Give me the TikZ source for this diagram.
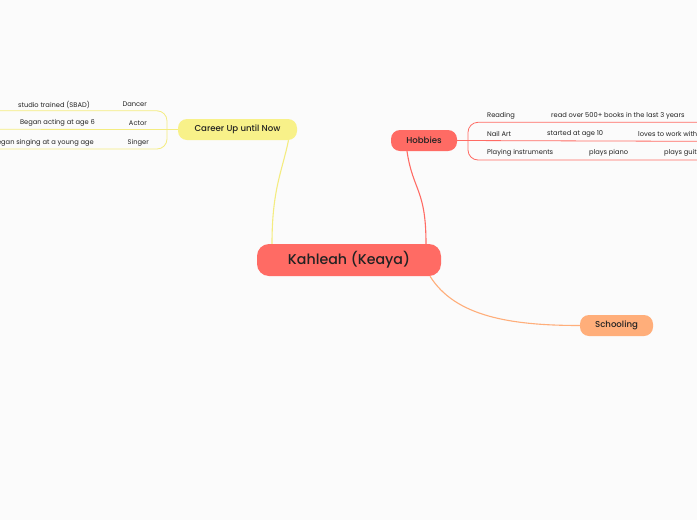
\documentclass[tikz,border=0pt]{standalone}
\usepackage{fontspec}
\setmainfont{Poppins}
\newfontfamily\pmed{Poppins Medium}
\definecolor{bg}{HTML}{FBFBFB}
\definecolor{mainred}{HTML}{FF6B64}
\definecolor{hobred}{HTML}{FF6B64}
\definecolor{careeryel}{HTML}{F8F189}
\definecolor{careerline}{HTML}{F4EC80}
\definecolor{schoolor}{HTML}{FFAE7A}
\definecolor{txt}{HTML}{222222}
\tikzset{
  topic/.style={rounded corners=9pt, minimum height=21pt, inner sep=0pt, text=txt, font=\pmed\fontsize{8.6}{10}\selectfont},
  leaf/.style={inner sep=0pt, text=txt, font=\fontsize{6.7}{8}\selectfont},
  conn/.style={line width=1.1pt},
}
\begin{document}
\begin{tikzpicture}[x=1pt,y=-1pt]
\fill[bg] (0,0) rectangle (697,520);
\useasboundingbox (0,0) rectangle (697,520);
\clip (0,0) rectangle (697,520);
% topics
\node[topic, fill=mainred, minimum width=184pt, minimum height=32pt, rounded corners=12pt, font=\pmed\fontsize{14.2}{16}\selectfont] (main) at (349,260) {Kahleah (Keaya)};
\node[topic, fill=careeryel, minimum width=119pt] (career) at (237.5,129.5) {Career Up until Now};
\node[topic, fill=hobred, minimum width=66pt] (hob) at (424,140.5) {Hobbies};
\node[topic, fill=schoolor, minimum width=73pt] (school) at (616.5,325.5) {Schooling};
% connectors
\draw[conn, careerline] ([xshift=-77pt]main.north) .. controls +(0,-55) and +(-6,30) .. ([xshift=51pt]career.south);
\draw[conn, hobred] ([xshift=77pt]main.north) .. controls +(0,-55) and +(6,40) .. ([xshift=-17pt]hob.south);
\draw[conn, schoolor] ([xshift=81pt]main.south) .. controls +(25,40) and +(-70,0) .. (school.west);
% career bracket
\coordinate (cb) at (0,129.3);
\draw[line width=0.8pt, careerline, rounded corners=10pt] (0,110.8) -- (167,110.8) -- (167,149) -- (0,149);
\draw[line width=0.8pt, careerline] (career.west) -- (cb);
\node[leaf, anchor=east] (c1) at (90,104.5) {studio trained (SBAD)};
\node[leaf, anchor=east] (c1b) at (147,104.5) {Dancer};
\node[leaf, anchor=east] (c2) at (95,123.3) {Began acting at age 6};
\node[leaf, anchor=east] (c2b) at (147,123.3) {Actor};
\node[leaf, anchor=east] (c3) at (94,142.5) {Began singing at a young age};
\node[leaf, anchor=east] (c3b) at (149,142.5) {Singer};
% hobbies bracket
\coordinate (hb) at (697,141.3);
\draw[line width=0.8pt, hobred, rounded corners=10pt] (697,122.3) -- (468,122.3) -- (468,160) -- (697,160);
\draw[line width=0.8pt, hobred] (hob.east) -- (hb);
\node[leaf, anchor=west] (h1) at (487,115.5) {Reading};
\node[leaf, anchor=west] (h1b) at (551,115.5) {read over 500+ books in the last 3 years};
\node[leaf, anchor=west] (h2) at (487,134.3) {Nail Art};
\node[leaf, anchor=west] (h2b) at (547,134.3) {started at age 10};
\node[leaf, anchor=west] (h2c) at (638,134.3) {loves to work with};
\node[leaf, anchor=west] (h3) at (487,153.3) {Playing instruments};
\node[leaf, anchor=west] (h3b) at (589,153.3) {plays piano};
\node[leaf, anchor=west] (h3c) at (664,153.3) {plays guitar};
\end{tikzpicture}
\end{document}
